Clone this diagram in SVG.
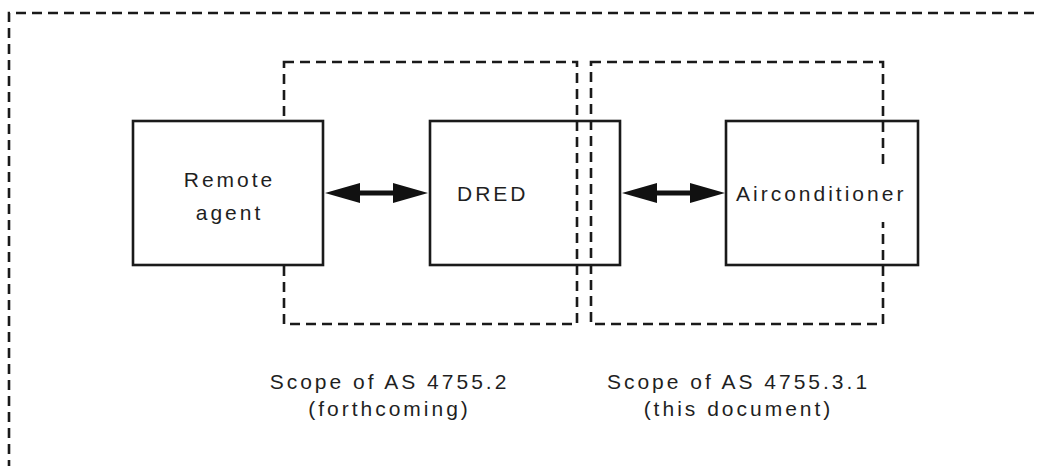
<svg xmlns="http://www.w3.org/2000/svg" width="1037" height="466" viewBox="0 0 1037 466">
<style>
.dash{fill:none;stroke:#1a1a1a;stroke-width:2.6;stroke-dasharray:10 6}
.box{stroke:#1a1a1a;stroke-width:2.6}
.lbl{font-family:"Liberation Sans",Arial,sans-serif;font-size:21px;letter-spacing:3px;fill:#1f1f1f}
.arr{fill:#111;stroke:none}
</style>
<g id="scopes">
<path class="dash" d="M9,470 V13 H1040"/>
<rect class="dash" x="284" y="62" width="293" height="262"/>
<rect class="dash" x="591" y="62" width="292" height="262"/>
</g>
<g id="remote-agent">
<rect class="box" x="133" y="121" width="190" height="144" fill="#fff"/>
<text class="lbl" x="229.5" y="187" text-anchor="middle">Remote</text>
<text class="lbl" x="229.5" y="220" text-anchor="middle">agent</text>
</g>
<g id="dred">
<rect class="box" x="430" y="121" width="190" height="144" fill="none"/>
<text class="lbl" x="457" y="201">DRED</text>
</g>
<g id="airconditioner">
<rect x="730" y="170" width="180" height="52" fill="#fff"/>
<rect class="box" x="726" y="121" width="192" height="144" fill="none"/>
<text class="lbl" x="736" y="201">Airconditioner</text>
</g>
<g id="connectors">
<path class="arr" d="M325,193 L360,183 L360,190.5 L393,190.5 L393,183 L428,193 L393,203 L393,195.5 L360,195.5 L360,203 Z"/>
<path class="arr" d="M622,193 L657,183 L657,190.5 L690,190.5 L690,183 L725,193 L690,203 L690,195.5 L657,195.5 L657,203 Z"/>
</g>
<g id="captions">
<text class="lbl" x="389.5" y="389" text-anchor="middle">Scope of AS 4755.2</text>
<text class="lbl" x="389.5" y="416" text-anchor="middle">(forthcoming)</text>
<text class="lbl" x="738.5" y="389" text-anchor="middle">Scope of AS 4755.3.1</text>
<text class="lbl" x="738.5" y="416" text-anchor="middle">(this document)</text>
</g>
</svg>
